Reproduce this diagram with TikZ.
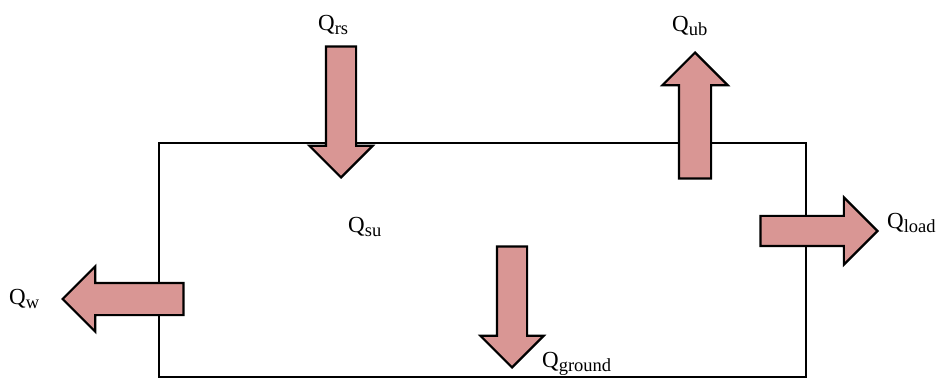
\documentclass[tikz,border=0pt]{standalone}
\usepackage{fontspec}
\setmainfont{Liberation Serif}
\usetikzlibrary{shapes.arrows,positioning}
\definecolor{heatfill}{HTML}{D99694}
\newcommand{\qflux}[1]{Q\raisebox{-4pt}{\fontsize{18.5pt}{18.5pt}\selectfont #1}}

\begin{document}
\begin{tikzpicture}[x=1pt, y=-1pt,
  wall/.style={draw, line width=2.8pt, inner sep=0pt},
  flux/.style={single arrow, draw, fill=heatfill, line width=2.2pt, anchor=tip,
    inner sep=14pt, single arrow head extend=16.5pt},
  lab/.style={inner sep=0pt, anchor=base west, font=\fontsize{23pt}{23pt}\selectfont}
]
\useasboundingbox (0,0) rectangle (944,379);
\node[wall, minimum width=647pt, minimum height=234pt] (house) at (482.5,260) {};

% heat flows (anchored at the tips)
\node[flux, minimum height=131pt, shape border rotate=270] (rs) at (341,179) {};
\node[flux, minimum height=126pt, shape border rotate=90, inner sep=15pt] (ub) at (695,51) {};
\node[flux, minimum height=121pt, shape border rotate=180, inner sep=15pt] (w) at (61,299) {};
\node[flux, minimum height=121pt, shape border rotate=270] (ground) at (512,369) {};
\node[flux, minimum height=117pt, single arrow head extend=18.5pt] (load) at (879,231) {};

\node[lab] (qrs) at (318,31) {\qflux{rs}};
\node[lab] (qub) at (672,32) {\qflux{ub}};
\node[lab] (qw) at (9,304) {\qflux{w}};
\node[lab] (qground) at (542,367) {\qflux{ground}};
\node[lab] (qload) at (887,229) {\qflux{load}};
\node[lab] (qsu) at (348,233) {\qflux{su}};
\end{tikzpicture}
\end{document}
